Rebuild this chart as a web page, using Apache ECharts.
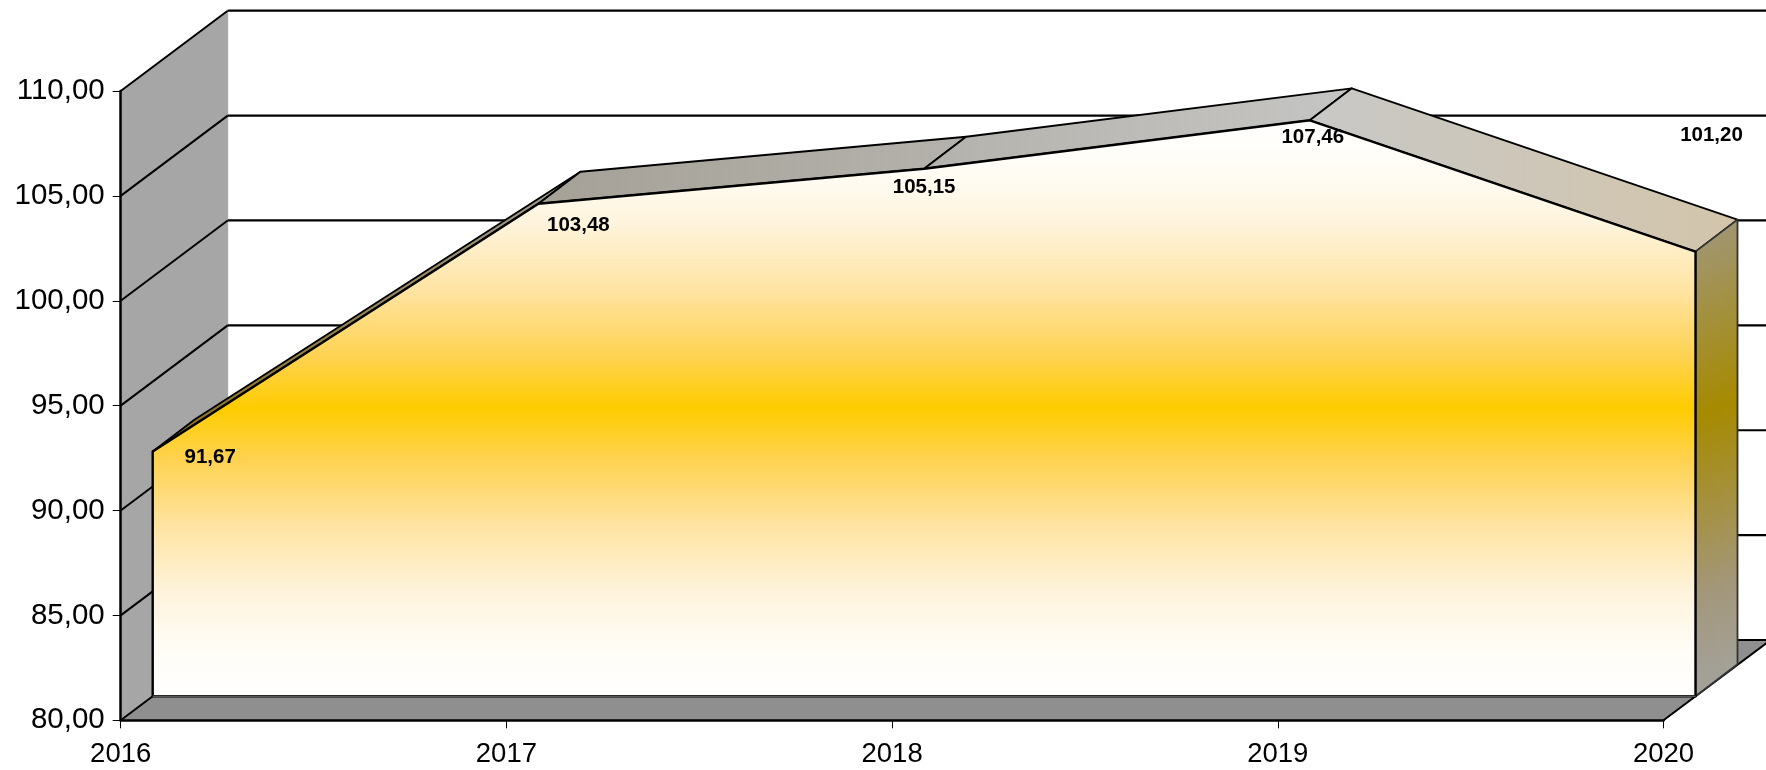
<!DOCTYPE html>
<html>
<head>
<meta charset="utf-8">
<title>Chart</title>
<style>
html, body { margin: 0; padding: 0; background: #fff; }
#main { width: 1766px; height: 770px; }
</style>
<script src="https://cdn.jsdelivr.net/npm/echarts@6/dist/echarts.min.js"></script>
</head>
<body>
<div id="main"></div>
<script>
var years = ['2016', '2017', '2018', '2019', '2020'];
var values = [91.67, 103.48, 105.15, 107.46, 101.20];
var gridValues = [80, 85, 90, 95, 100, 105, 110];

// fake 3d depth, in px
var wallDepth = [107, -80.3];
var frontShift = [32, -24];
var sideDepth = [42, -32];
// where Excel left the value labels, relative to the front point
var labelOffsets = [[57.5, 5.5], [40, 22], [0, 19], [3, 17], [16, -116]];
var topFaceColors = [
	['#8a6f1a', '#a09a90'],
	['#a5a197', '#b4b2ac'],
	['#b4b2ac', '#c5c5c3'],
	['#c8c8c6', '#d3c5ab']
];

function fmt(v) {
	return v.toFixed(2).replace('.', ',');
}

function shift(p, d) {
	return [p[0] + d[0], p[1] + d[1]];
}

function line(a, b, color, width) {
	return {
		type: 'line',
		shape: { x1: a[0], y1: a[1], x2: b[0], y2: b[1] },
		style: { stroke: color, lineWidth: width }
	};
}

function poly(points, fill, stroke, width) {
	return {
		type: 'polygon',
		shape: { points: points },
		style: { fill: fill, stroke: stroke, lineWidth: width, lineJoin: 'round' }
	};
}

function renderWalls(params, api) {
	var a = api.coord([0, 80]), b = api.coord([4, 80]), c = api.coord([0, 110]);
	return {
		type: 'group',
		children: [
			poly([a, c, shift(c, wallDepth), shift(a, wallDepth)], '#a6a6a6', '#a6a6a6', 1),
			poly([a, b, shift(b, wallDepth), shift(a, wallDepth)], '#8f8f8f', '#8f8f8f', 1),
			line(b, shift(b, wallDepth), '#000', 2)
		]
	};
}

function renderGridLine(params, api) {
	var a = api.coord([0, api.value(0)]), b = api.coord([4, api.value(0)]);
	var a2 = shift(a, wallDepth), b2 = shift(b, wallDepth);
	return {
		type: 'group',
		children: [line(a, a2, '#000', 2), line(a2, b2, '#000', 2.2)]
	};
}

function renderSides(params, api) {
	var pts = values.map(function (v, i) { return shift(api.coord([i, v]), frontShift); });
	var last = pts[pts.length - 1];
	var base = shift(api.coord([4, 80]), frontShift);
	var children = [];
	for (var i = 0; i < pts.length - 1; i++) {
		children.push(poly(
			[pts[i], pts[i + 1], shift(pts[i + 1], sideDepth), shift(pts[i], sideDepth)],
			{
				type: 'linear', x: 0, y: 0, x2: 1, y2: 0,
				colorStops: [
					{ offset: 0, color: topFaceColors[i][0] },
					{ offset: 1, color: topFaceColors[i][1] }
				]
			},
			'#000', 1.8
		));
	}
	children.push(poly(
		[last, shift(last, sideDepth), shift(base, sideDepth), base],
		{
			type: 'linear', x: 0, y: 0, x2: 4.4, y2: 1,
			colorStops: [
				{ offset: 0, color: '#a0977f' },
				{ offset: 0.358, color: '#a68a00' },
				{ offset: 0.68, color: '#a3977a' },
				{ offset: 0.82, color: '#a3a095' },
				{ offset: 1, color: '#a6a6a6' }
			]
		},
		'#333', 1.8
	));
	return { type: 'group', children: children };
}

function renderFront(params, api) {
	var pts = values.map(function (v, i) { return shift(api.coord([i, v]), frontShift); });
	var outline = pts.concat([
		shift(api.coord([4, 80]), frontShift),
		shift(api.coord([0, 80]), frontShift)
	]);
	var children = [
		poly(outline, {
			type: 'linear', x: 0, y: 0, x2: 0, y2: 1,
			colorStops: [
				{ offset: 0, color: '#ffffff' },
				{ offset: 0.093, color: '#fffcf4' },
				{ offset: 0.18, color: '#fef4dd' },
				{ offset: 0.3, color: '#ffe3a0' },
				{ offset: 0.413, color: '#fed24f' },
				{ offset: 0.5, color: '#ffcc00' },
				{ offset: 0.587, color: '#fed24f' },
				{ offset: 0.7, color: '#ffe3a0' },
				{ offset: 0.82, color: '#fef4dd' },
				{ offset: 0.907, color: '#fffcf4' },
				{ offset: 1, color: '#ffffff' }
			]
		}, '#000', 2.4)
	];
	// lower edge is thinner and grey
	children.push(line(outline[5], outline[6], '#555', 1.6));
	return { type: 'group', children: children };
}

function renderLabels(params, api) {
	var i = params.dataIndex;
	var v = api.value(1);
	var p = shift(api.coord([i, v]), frontShift);
	return {
		type: 'text',
		style: {
			x: p[0] + labelOffsets[i][0],
			y: p[1] + labelOffsets[i][1],
			text: fmt(v),
			fill: '#000',
			font: 'bold 20.5px "Liberation Sans"',
			align: 'center',
			verticalAlign: 'middle'
		}
	};
}

var chart = echarts.init(document.getElementById('main'));
chart.setOption({
	animation: false,
	backgroundColor: '#fff',
	grid: { left: 120.7, right: 102.5, top: 91, bottom: 49.7, containLabel: false },
	xAxis: {
		type: 'category',
		data: years,
		boundaryGap: false,
		z: 10,
		axisLine: { show: true, lineStyle: { color: '#000', width: 2.5 } },
		axisTick: { show: true, alignWithLabel: true, length: 8, lineStyle: { color: '#000', width: 1 } },
		axisLabel: { color: '#000', fontFamily: 'Liberation Sans', fontSize: 27.5, margin: 20, interval: 0, showMinLabel: true, showMaxLabel: true }
	},
	yAxis: {
		type: 'value',
		min: 80,
		max: 110,
		interval: 5,
		z: 10,
		splitLine: { show: false },
		axisLine: { show: true, lineStyle: { color: '#000', width: 2.5 } },
		axisTick: { show: true, length: 8, lineStyle: { color: '#000', width: 1 } },
		axisLabel: { color: '#000', fontFamily: 'Liberation Sans', fontSize: 29.5, margin: 16, padding: [12, 0, 0, 0], formatter: fmt }
	},
	series: [
		{ type: 'custom', silent: true, renderItem: renderWalls, data: [[0, 80]], z: 1 },
		{ type: 'custom', silent: true, renderItem: renderGridLine, data: gridValues.map(function (v) { return [v]; }), encode: { y: 0 }, z: 2 },
		{ type: 'custom', silent: true, renderItem: renderSides, data: [[0, 80]], z: 3 },
		{ type: 'custom', silent: true, renderItem: renderFront, data: [[0, 80]], z: 4 },
		{
			type: 'custom', silent: true, renderItem: renderLabels, z: 5,
			data: values.map(function (v, i) { return [i, v]; })
		}
	]
});
</script>
</body>
</html>
